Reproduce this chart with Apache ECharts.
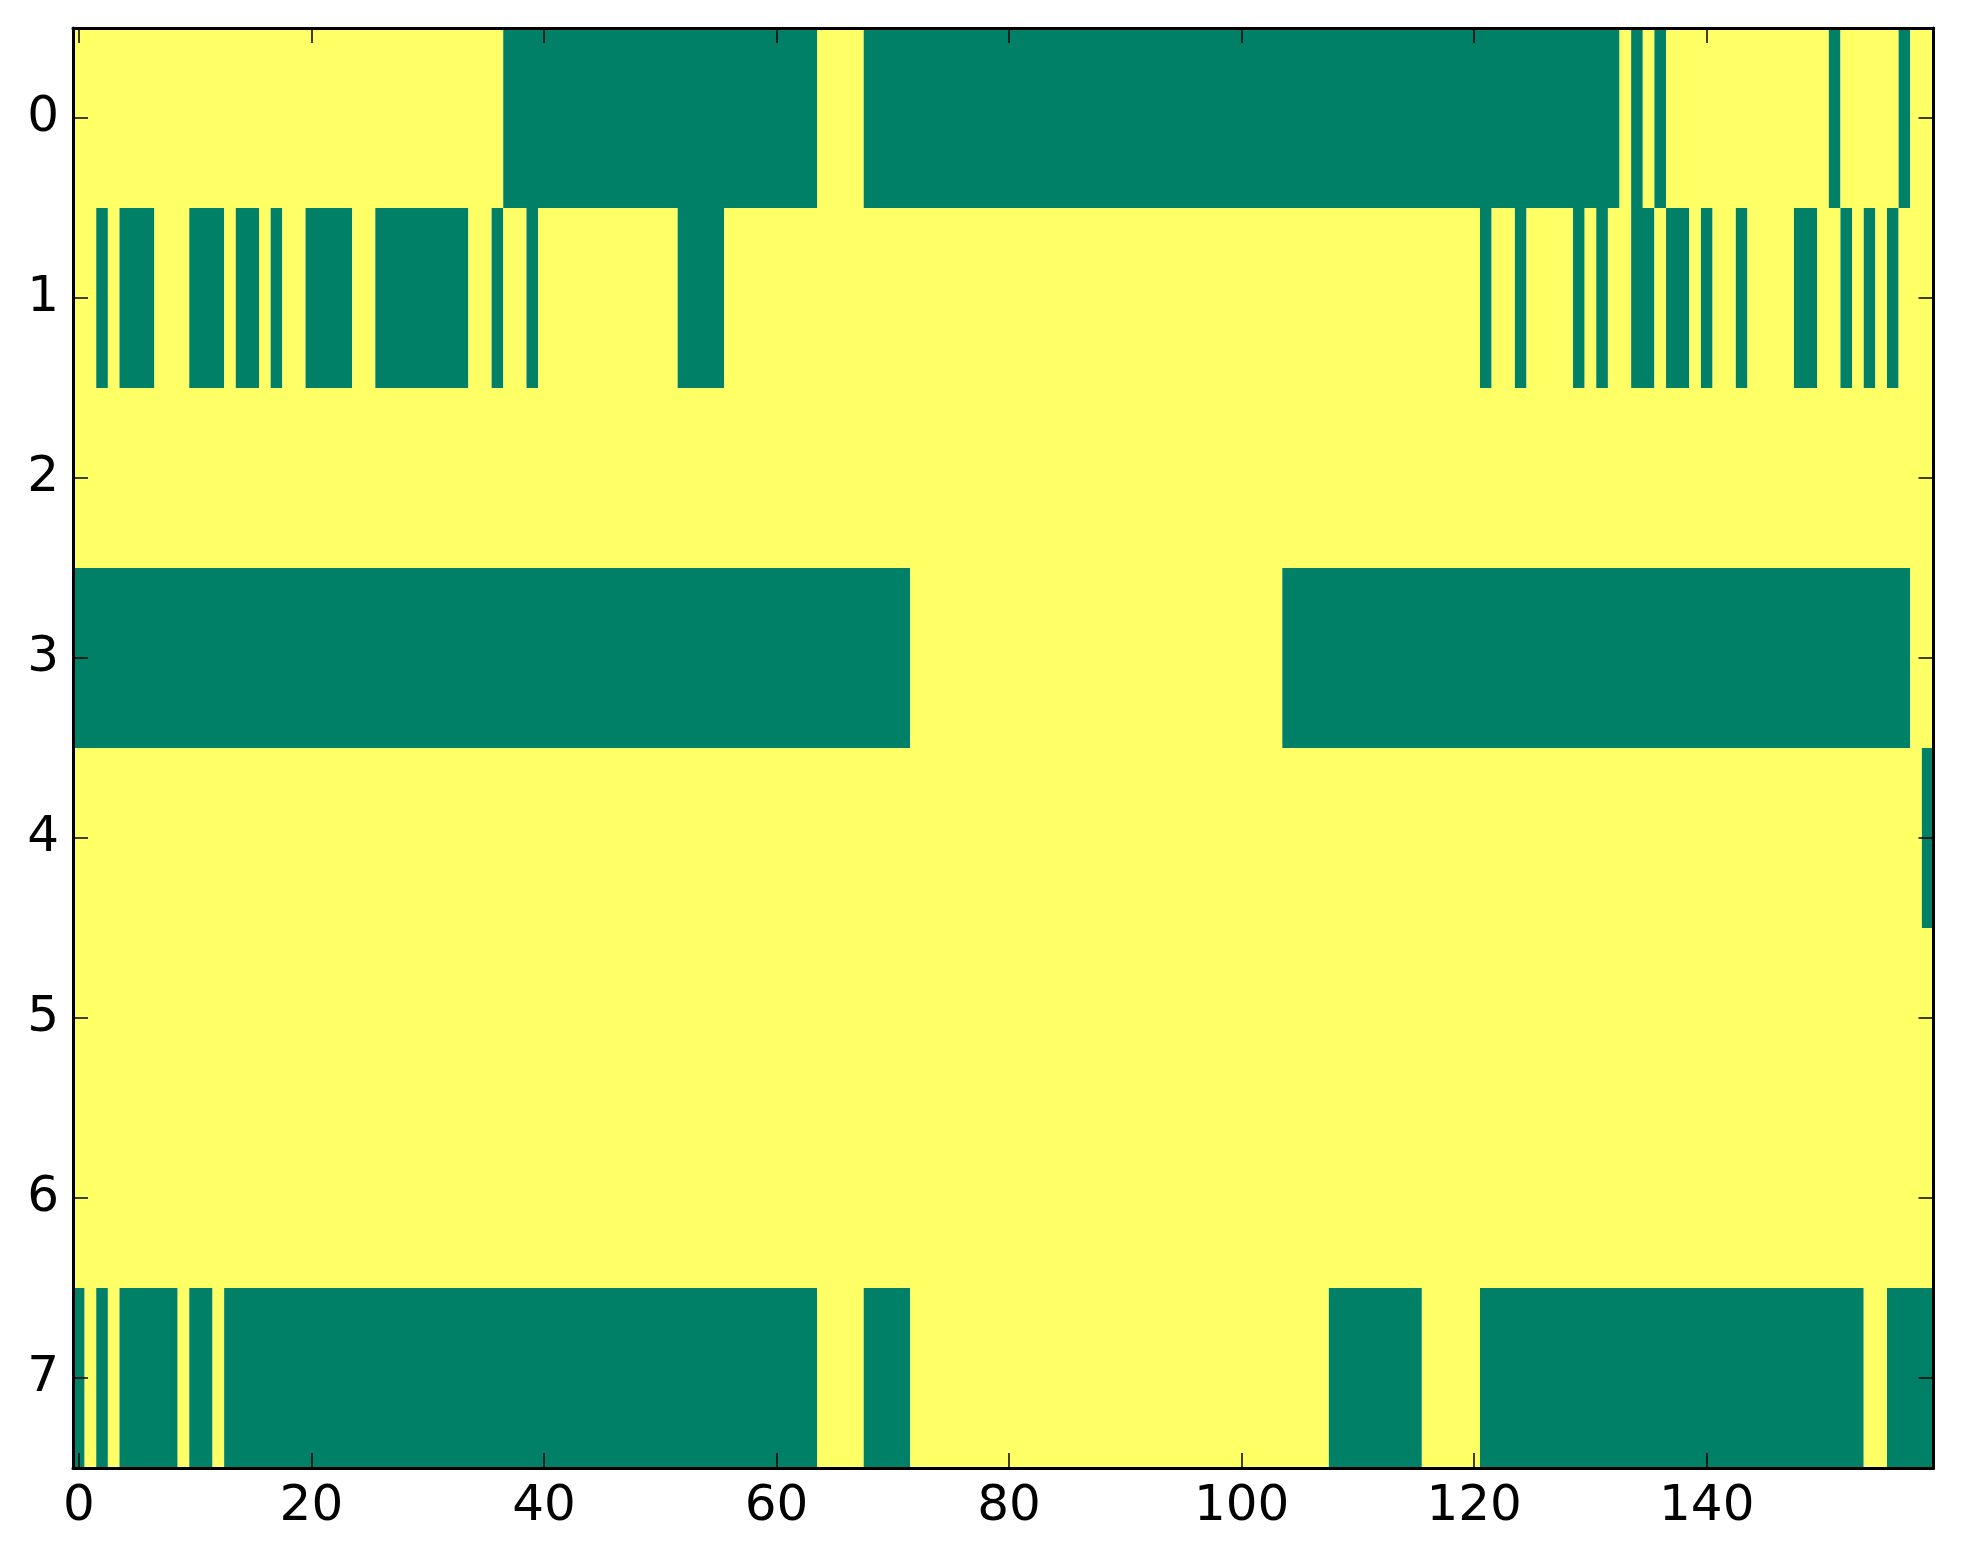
<!DOCTYPE html>
<html>
<head>
<meta charset="utf-8">
<script src="https://cdn.jsdelivr.net/npm/echarts@6/dist/echarts.min.js"></script>
<style>
  html, body { margin: 0; padding: 0; background: #fff; }
  #chart { width: 1963px; height: 1564px; }
</style>
</head>
<body>
<div id="chart"></div>
<script>
// rows of the matrix, top to bottom
const rowLabels = ["0", "1", "2", "3", "4", "5", "6", "7"];
const colCount = 160;
const xTickStep = 20;

// runs of zero-valued (green) columns per row, [first, last]; everything else is 1
const greenRow0 = [[37, 63], [68, 132], [134, 134], [136, 136], [151, 151], [157, 157]];
const greenRow1 = [[2, 2], [4, 6], [10, 12], [14, 15], [17, 17], [20, 23], [26, 33], [36, 36],
  [39, 39], [52, 55], [121, 121], [124, 124], [129, 129], [131, 131], [134, 135], [137, 138],
  [140, 140], [143, 143], [148, 149], [152, 152], [154, 154], [156, 156]];
const greenRow2 = [];
const greenRow3 = [[0, 71], [104, 157]];
const greenRow4 = [[159, 159]];
const greenRow5 = [];
const greenRow6 = [];
const greenRow7 = [[0, 0], [2, 2], [4, 8], [10, 11], [13, 63], [68, 71], [108, 115], [121, 153], [156, 159]];

const greenRows = [greenRow0, greenRow1, greenRow2, greenRow3, greenRow4, greenRow5, greenRow6, greenRow7];

// summer colormap ends
const COLOR_LOW = "#008066";
const COLOR_HIGH = "#ffff66";

const xCats = [];
for (let i = 0; i < colCount; i++) xCats.push(String(i));

// build the 0/1 matrix, then collapse each row into runs of equal value
const segments = [];
greenRows.forEach((runs, r) => {
  const row = new Array(colCount).fill(1);
  runs.forEach(([a, b]) => { for (let c = a; c <= b; c++) row[c] = 0; });
  let start = 0;
  for (let c = 1; c <= colCount; c++) {
    if (c === colCount || row[c] !== row[start]) {
      segments.push([start, c - 1, r, row[start]]);
      start = c;
    }
  }
});

const showTick = (idx) => idx % xTickStep === 0;

const chart = echarts.init(document.getElementById("chart"));

const axisLine = { show: true, lineStyle: { color: "#000", width: 3 } };
const tickStyle = { show: true, inside: true, length: 15, lineStyle: { color: "#000", width: 1.5 } };
const labelFont = { color: "#000", fontFamily: "DejaVu Sans", fontSize: 50 };

chart.setOption({
  animation: false,
  grid: { left: 73, right: 29.5, top: 28, bottom: 96 },
  xAxis: [
    {
      type: "category", data: xCats, position: "bottom", z: 10,
      axisLine: axisLine,
      axisTick: Object.assign({ alignWithLabel: true, interval: showTick }, tickStyle),
      axisLabel: Object.assign({ interval: showTick, margin: 14 }, labelFont),
      splitLine: { show: false },
    },
    {
      type: "category", data: xCats, position: "top", z: 10,
      axisLine: axisLine,
      axisTick: Object.assign({ alignWithLabel: true, interval: showTick }, tickStyle),
      axisLabel: { show: false },
      splitLine: { show: false },
    },
  ],
  yAxis: [
    {
      type: "category", data: rowLabels, inverse: true, position: "left", z: 10,
      axisLine: axisLine,
      axisTick: Object.assign({ alignWithLabel: true }, tickStyle),
      axisLabel: Object.assign({ margin: 14 }, labelFont),
      splitLine: { show: false },
    },
    {
      type: "category", data: rowLabels, inverse: true, position: "right", z: 10,
      axisLine: axisLine,
      axisTick: Object.assign({ alignWithLabel: true }, tickStyle),
      axisLabel: { show: false },
      splitLine: { show: false },
    },
  ],
  series: [
    {
      type: "custom",
      xAxisIndex: 0,
      yAxisIndex: 0,
      clip: true,
      encode: { x: [0, 1], y: 2 },
      data: segments,
      renderItem: (params, api) => {
        const p0 = api.coord([api.value(0), api.value(2)]);
        const p1 = api.coord([api.value(1), api.value(2)]);
        const size = api.size([1, 1]);
        return {
          type: "rect",
          shape: {
            x: p0[0] - size[0] / 2,
            y: p0[1] - size[1] / 2,
            width: p1[0] - p0[0] + size[0],
            height: size[1],
          },
          style: { fill: api.value(3) === 0 ? COLOR_LOW : COLOR_HIGH },
        };
      },
    },
  ],
});
</script>
</body>
</html>
